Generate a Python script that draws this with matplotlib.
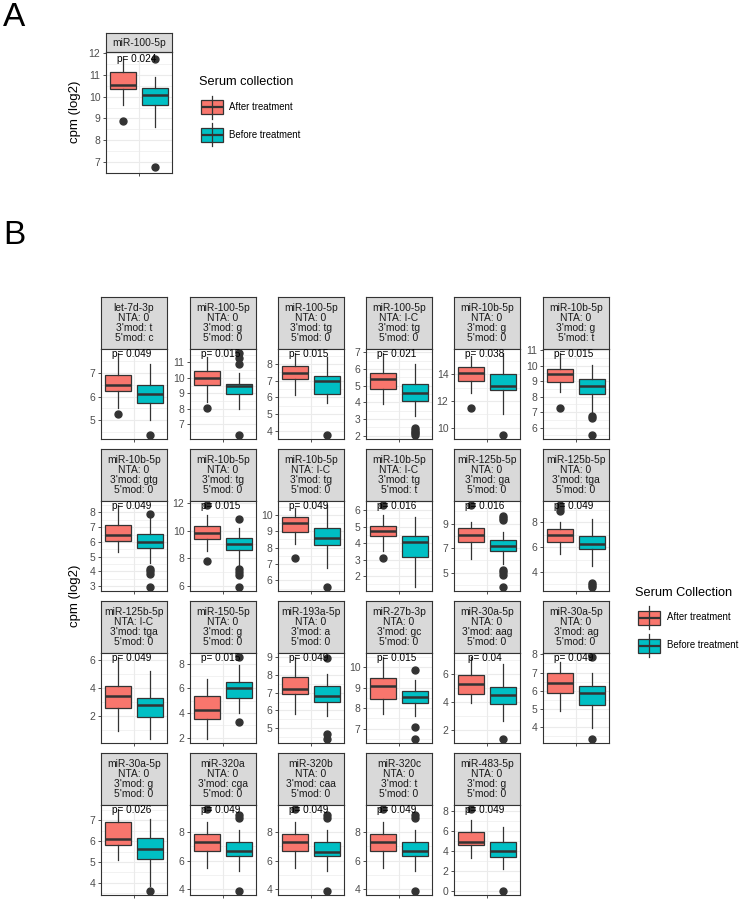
import matplotlib
matplotlib.use('Agg')
import matplotlib.pyplot as plt
from matplotlib.patches import Rectangle
from matplotlib.ticker import FixedLocator
import numpy as np

plt.rcParams['font.family'] = ['Liberation Sans', 'DejaVu Sans']

# ---------------- data ----------------
groups = ['After treatment', 'Before treatment']

# Panel A
a_title = 'miR-100-5p'
a_plabel = 'p= 0.024'
a_ticks = [7, 8, 9, 10, 11, 12]
a_after_box = [9.6, 10.35, 10.55, 11.15, 11.8]      # whislo, q1, median, q3, whishi
a_after_out = [8.9]
a_before_box = [8.6, 9.6, 10.1, 10.4, 10.9]
a_before_out = [11.75, 6.75]

# Panel B
mirna = ['let-7d-3p', 'miR-100-5p', 'miR-100-5p', 'miR-100-5p', 'miR-10b-5p', 'miR-10b-5p',
         'miR-10b-5p', 'miR-10b-5p', 'miR-10b-5p', 'miR-10b-5p', 'miR-125b-5p', 'miR-125b-5p',
         'miR-125b-5p', 'miR-150-5p', 'miR-193a-5p', 'miR-27b-3p', 'miR-30a-5p', 'miR-30a-5p',
         'miR-30a-5p', 'miR-320a', 'miR-320b', 'miR-320c', 'miR-483-5p']
nta = ['0', '0', '0', 'I-C', '0', '0',
       '0', '0', 'I-C', 'I-C', '0', '0',
       'I-C', '0', '0', '0', '0', '0',
       '0', '0', '0', '0', '0']
mod3 = ['t', 'g', 'tg', 'tg', 'g', 'g',
        'gtg', 'tg', 'tg', 'tg', 'ga', 'tga',
        'tga', 'g', 'a', 'gc', 'aag', 'ag',
        'g', 'cga', 'caa', 't', 'g']
mod5 = ['c', '0', '0', '0', '0', 't',
        '0', '0', '0', 't', '0', '0',
        '0', '0', '0', '0', '0', '0',
        '0', '0', '0', '0', '0']
p_labels = ['p= 0.049', 'p= 0.015', 'p= 0.015', 'p= 0.021', 'p= 0.038', 'p= 0.015',
            'p= 0.049', 'p= 0.015', 'p= 0.049', 'p= 0.016', 'p= 0.016', 'p= 0.049',
            'p= 0.049', 'p= 0.015', 'p= 0.049', 'p= 0.015', 'p= 0.04', 'p= 0.049',
            'p= 0.026', 'p= 0.049', 'p= 0.049', 'p= 0.049', 'p= 0.049']
y_ticks = [[5, 6, 7], [7, 8, 9, 10, 11], [4, 5, 6, 7, 8], [2, 3, 4, 5, 6, 7], [10, 12, 14], [6, 7, 8, 9, 10, 11],
           [3, 4, 5, 6, 7, 8], [6, 8, 10, 12], [6, 7, 8, 9, 10], [2, 3, 4, 5, 6], [5, 7, 9], [4, 6, 8],
           [2, 4, 6], [2, 4, 6, 8], [5, 6, 7, 8, 9], [7, 8, 9, 10], [2, 4, 6], [4, 5, 6, 7, 8],
           [4, 5, 6, 7], [4, 6, 8], [4, 6, 8], [4, 6, 8], [0, 2, 4, 6, 8]]

# box stats: whislo, q1, median, q3, whishi
after_box = [[5.5, 6.24, 6.5, 6.9, 7.82], [8.45, 9.55, 9.97, 10.45, 11.35], [6.15, 7.1, 7.45, 7.9, 8.65],
             [3.92, 4.8, 5.38, 5.75, 6.95], [12.6, 13.5, 14.07, 14.55, 15.4], [8.3, 8.96, 9.46, 9.8, 10.8],
             [5.35, 6.05, 6.5, 7.15, 8.5], [8.5, 9.35, 9.85, 10.3, 11.1], [8.2, 8.95, 9.5, 9.9, 10.45],
             [3.55, 4.4, 4.75, 5.05, 5.7], [6.1, 7.5, 8.05, 8.6, 9.1], [5.45, 6.45, 7.0, 7.45, 8.0],
             [0.95, 2.55, 3.45, 4.15, 6.2], [1.9, 3.55, 4.25, 5.35, 6.75], [5.8, 6.95, 7.2, 7.9, 9.0],
             [7.7, 8.45, 9.1, 9.5, 10.5], [3.95, 4.6, 5.3, 5.9, 7.2], [4.9, 5.9, 6.45, 7.0, 7.6],
             [5.1, 5.8, 6.1, 6.95, 7.55], [5.5, 6.65, 7.35, 7.85, 8.75], [5.5, 6.65, 7.35, 7.85, 8.75],
             [5.5, 6.65, 7.35, 7.85, 8.75], [3.3, 4.6, 4.95, 5.95, 7.15]]
after_out = [[5.25], [8.05], [], [], [11.45], [7.28],
             [], [11.85, 7.8], [7.35], [6.3, 3.1], [10.5], [9.4, 9.15, 8.9],
             [], [], [], [], [], [],
             [], [9.65], [9.65], [9.65], [8.2]]
before_box = [[5.0, 5.72, 6.1, 6.5, 7.36], [8.0, 8.95, 9.45, 9.62, 10.3], [5.65, 6.2, 6.95, 7.25, 8.4],
              [3.2, 4.1, 4.55, 5.1, 6.3], [11.0, 12.82, 13.12, 14.05, 15.6], [6.9, 8.15, 8.7, 9.15, 10.04],
              [4.55, 5.6, 6.0, 6.55, 7.75], [7.4, 8.55, 9.0, 9.45, 10.2], [6.75, 8.15, 8.6, 9.2, 10.6],
              [1.35, 3.15, 4.05, 4.45, 5.6], [5.7, 6.8, 7.2, 7.65, 8.3], [4.45, 5.85, 6.3, 6.9, 8.25],
              [0.35, 1.95, 2.75, 3.3, 5.2], [4.0, 5.25, 6.05, 6.55, 7.9], [5.7, 6.45, 6.8, 7.35, 8.05],
              [7.6, 8.25, 8.55, 8.85, 9.4], [2.7, 3.9, 4.5, 5.1, 6.7], [3.95, 5.2, 5.85, 6.25, 7.0],
              [3.85, 5.15, 5.6, 6.15, 7.05], [5.25, 6.35, 6.65, 7.3, 8.2], [5.25, 6.35, 6.6, 7.3, 8.2],
              [5.25, 6.35, 6.7, 7.3, 8.2], [2.15, 3.35, 4.0, 4.95, 6.4]]
before_out = [[4.39], [11.6, 11.3, 10.9, 6.3], [3.75], [2.45, 2.35, 2.25, 2.15, 2.05], [9.45], [6.75, 6.6, 5.53],
              [7.9, 4.15, 4.0, 3.8, 2.95], [10.85, 7.2, 7.0, 6.8, 5.9], [5.6], [], [9.6, 9.45, 9.25, 5.25, 5.05, 4.85, 3.85], [3.1, 2.95, 2.8],
              [], [8.55, 3.25], [8.95, 4.7, 4.4], [9.85, 7.1, 6.5], [1.4], [7.85, 3.35],
              [3.6], [9.2, 9.0, 3.85], [9.2, 9.0, 3.85], [9.2, 9.0, 3.85], [0.0]]

# ---------------- style ----------------
W, H = 740, 902
RED = '#F8766D'
TEAL = '#00BFC4'
DARK = '#333333'
fig = plt.figure(figsize=(W / 100, H / 100), dpi=100)


def px_axes(l, t, w, h, **kw):
    return fig.add_axes([l / W, 1 - (t + h) / H, w / W, h / H], **kw)


def draw_strip(l, t, w, h, text):
    sa = px_axes(l, t, w, h)
    sa.set_facecolor('#D9D9D9')
    sa.set_xticks([])
    sa.set_yticks([])
    for s in sa.spines.values():
        s.set_color(DARK)
        s.set_linewidth(0.8)
    sa.text(0.5, 0.5, text, ha='center', va='center', fontsize=7.4, color='#1A1A1A',
            linespacing=1.02, transform=sa.transAxes)


def draw_panel(l, t, w, h, box_a, out_a, box_b, out_b, ticks, plabel):
    ax = px_axes(l, t, w, h)
    stats = []
    for b, o in ((box_a, out_a), (box_b, out_b)):
        stats.append(dict(whislo=b[0], q1=b[1], med=b[2], q3=b[3], whishi=b[4], fliers=o))
    allv = list(box_a) + list(box_b) + list(out_a) + list(out_b)
    lo, hi = min(allv), max(allv)
    pad = 0.05 * (hi - lo)
    ax.set_xlim(0, 1)
    bp = ax.bxp(stats, positions=[0.255, 0.745], widths=0.39, patch_artist=True,
                showcaps=False, manage_ticks=False,
                boxprops=dict(edgecolor=DARK, linewidth=0.9),
                medianprops=dict(color=DARK, linewidth=1.8, solid_capstyle='butt'),
                whiskerprops=dict(color=DARK, linewidth=0.9),
                flierprops=dict(marker='o', markerfacecolor=DARK, markeredgecolor=DARK,
                                markersize=5, linestyle='none'))
    for patch, c in zip(bp['boxes'], [RED, TEAL]):
        patch.set_facecolor(c)
    ax.set_ylim(lo - pad, hi + pad)
    ax.set_yticks(ticks)
    step = ticks[1] - ticks[0]
    minors = np.arange(ticks[0] - step / 2, ticks[-1] + step, step)
    ax.yaxis.set_minor_locator(FixedLocator(minors))
    ax.set_xticks([0.5], labels=[''])
    ax.grid(True, which='major', color='#EBEBEB', linewidth=0.8)
    ax.grid(True, which='minor', axis='y', color='#EBEBEB', linewidth=0.45)
    ax.set_axisbelow(True)
    ax.tick_params(axis='both', which='major', length=2.5, width=0.6, color=DARK,
                   labelsize=7.5, labelcolor='#4D4D4D', pad=1.5)
    ax.tick_params(which='minor', length=0)
    for s in ax.spines.values():
        s.set_color(DARK)
        s.set_linewidth(0.8)
    ax.text(0.47, 0.94, plabel, transform=ax.transAxes, ha='center', va='center',
            fontsize=7.2, color='black', zorder=6)
    return ax


# ---------------- panel A ----------------
draw_strip(106, 33, 66, 19, a_title)
draw_panel(106, 52, 66, 121, a_after_box, a_after_out, a_before_box, a_before_out, a_ticks, a_plabel)

# ---------------- panel B ----------------
cols_left = [101, 190, 278, 366, 454, 543]
rows_top = [297, 449, 601, 753]
PW, SH, PH = 66, 52, 90
for i in range(len(mirna)):
    r, c = divmod(i, 6)
    l, t = cols_left[c], rows_top[r]
    label = f"{mirna[i]}\nNTA: {nta[i]}\n3'mod: {mod3[i]}\n5'mod: {mod5[i]}"
    draw_strip(l, t, PW, SH, label)
    draw_panel(l, t + SH, PW, PH, after_box[i], after_out[i], before_box[i], before_out[i],
               y_ticks[i], p_labels[i])

# ---------------- overlay: labels and legends ----------------
ov = fig.add_axes([0, 0, 1, 1], facecolor='none')
ov.set_xlim(0, W)
ov.set_ylim(H, 0)
ov.axis('off')

ov.text(3, 17, 'A', fontsize=24, ha='left', va='center')
ov.text(3, 235, 'B', fontsize=24, ha='left', va='center')
ov.text(75, 112, 'cpm (log2)', fontsize=9.5, rotation=90, ha='center', va='center')
ov.text(75, 596, 'cpm (log2)', fontsize=9.5, rotation=90, ha='center', va='center')


def legend_key(x0, yc, color):
    ov.plot([x0 + 11, x0 + 11], [yc - 11.5, yc + 11.5], color=DARK, lw=0.9)
    ov.add_patch(Rectangle((x0, yc - 7), 22, 14, facecolor=color, edgecolor=DARK, lw=0.9))
    ov.plot([x0, x0 + 22], [yc, yc], color=DARK, lw=1.6, solid_capstyle='butt')


def legend(title, tx, ty, kx, ky, lx):
    ov.text(tx, ty, title, fontsize=9.2, ha='left', va='center')
    for k, (g, col) in enumerate(zip(groups, [RED, TEAL])):
        legend_key(kx, ky[k], col)
        ov.text(lx, ky[k], g, fontsize=6.9, ha='left', va='center')


legend('Serum collection', 199, 82, 201, [107, 134.5], 229)
legend('Serum Collection', 635, 593, 638, [617.5, 645.5], 667)

fig.savefig('out.png', dpi=100)
